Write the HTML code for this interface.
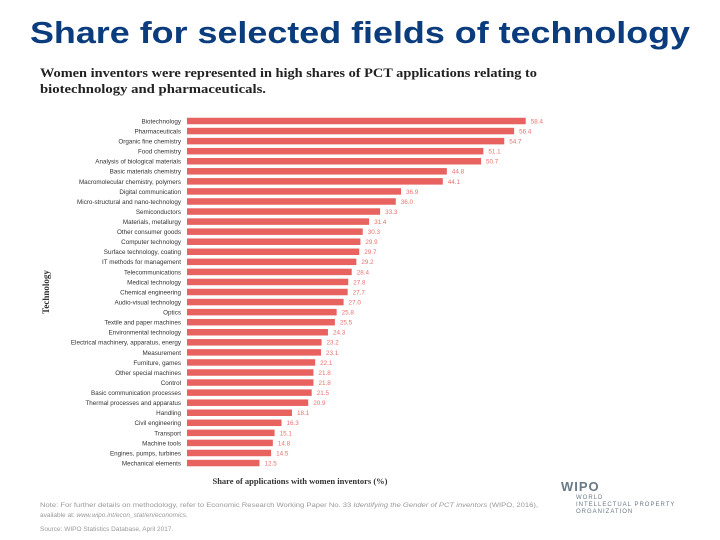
<!DOCTYPE html>
<html><head><meta charset="utf-8"><style>
body{margin:0;background:#fff;}
svg{display:block;font-family:"Liberation Sans",sans-serif;}
</style></head><body>
<svg id="c" width="720" height="540" viewBox="0 0 720 540">
<text x="30" y="43" font-size="31" font-weight="bold" fill="#0b3c7d" textLength="660" lengthAdjust="spacingAndGlyphs">Share for selected fields of technology</text>
<text x="40" y="77" font-family="Liberation Serif,serif" font-size="13" font-weight="bold" fill="#222" textLength="497" lengthAdjust="spacingAndGlyphs">Women inventors were represented in high shares of PCT applications relating to</text>
<text x="40" y="93" font-family="Liberation Serif,serif" font-size="13" font-weight="bold" fill="#222" textLength="226" lengthAdjust="spacingAndGlyphs">biotechnology and pharmaceuticals.</text>
<text transform="translate(49,292) rotate(-90)" text-anchor="middle" font-family="Liberation Serif,serif" font-size="9" font-weight="bold" fill="#333">Technology</text>
<g id="bars"></g>
<text x="300" y="484" text-anchor="middle" font-family="Liberation Serif,serif" font-size="8.5" font-weight="bold" fill="#333">Share of applications with women inventors (%)</text>
<text x="40" y="507" font-size="6.5" fill="#999" textLength="498" lengthAdjust="spacingAndGlyphs">Note: For further details on methodology, refer to Economic Research Working Paper No. 33 <tspan font-style="italic">Identifying the Gender of PCT inventors</tspan> (WIPO, 2016),</text>
<text x="40" y="517" font-size="6.5" fill="#999">available at: <tspan font-style="italic">www.wipo.int/econ_stat/en/economics.</tspan></text>
<text x="40" y="531" font-size="6.5" fill="#999">Source: WIPO Statistics Database, April 2017.</text>
<g>
<text x="561" y="491" font-size="13" font-weight="bold" fill="#6a7a86" letter-spacing="1">WIPO</text>
<text x="576" y="499" font-size="6" fill="#6a7a86" letter-spacing="1">WORLD</text>
<text x="576" y="506" font-size="6" fill="#6a7a86" letter-spacing="1">INTELLECTUAL PROPERTY</text>
<text x="576" y="513" font-size="6" fill="#6a7a86" letter-spacing="1">ORGANIZATION</text>
</g>
</svg>
<script>
const categories=["Biotechnology","Pharmaceuticals","Organic fine chemistry","Food chemistry","Analysis of biological materials","Basic materials chemistry","Macromolecular chemistry, polymers","Digital communication","Micro-structural and nano-technology","Semiconductors","Materials, metallurgy","Other consumer goods","Computer technology","Surface technology, coating","IT methods for management","Telecommunications","Medical technology","Chemical engineering","Audio-visual technology","Optics","Textile and paper machines","Environmental technology","Electrical machinery, apparatus, energy","Measurement","Furniture, games","Other special machines","Control","Basic communication processes","Thermal processes and apparatus","Handling","Civil engineering","Transport","Machine tools","Engines, pumps, turbines","Mechanical elements"];
const values=[58.4,56.4,54.7,51.1,50.7,44.8,44.1,36.9,36.0,33.3,31.4,30.3,29.9,29.7,29.2,28.4,27.8,27.7,27.0,25.8,25.5,24.3,23.2,23.1,22.1,21.8,21.8,21.5,20.9,18.1,16.3,15.1,14.8,14.5,12.5];
const x0=187,pxPer=5.8,y0=121,step=10.06,bh=6.5;
const xs=v=>x0+v*pxPer, ys=i=>y0+i*step;
const g=document.getElementById('bars'),NS="http://www.w3.org/2000/svg";
categories.forEach((c,i)=>{
 const y=ys(i);
 const t=document.createElementNS(NS,'text');
 
 
 t.setAttribute('x',181);t.setAttribute('y',y+2.4);t.setAttribute('text-anchor','end');
 t.setAttribute('font-size','6.3');t.setAttribute('fill','#333');t.textContent=c;g.appendChild(t);
 const r=document.createElementNS(NS,'rect');
 
 
 r.setAttribute('x',x0);r.setAttribute('y',y-bh/2);r.setAttribute('width',xs(values[i])-x0);r.setAttribute('height',bh);
 r.setAttribute('fill','#e8625f');g.appendChild(r);
 const v=document.createElementNS(NS,'text');
 
 
 v.setAttribute('x',xs(values[i])+5);v.setAttribute('y',y+2.4);
 v.setAttribute('font-size','6.3');v.setAttribute('fill','#e8706c');v.textContent=values[i].toFixed(1);g.appendChild(v);
});
</script>
</body></html>
